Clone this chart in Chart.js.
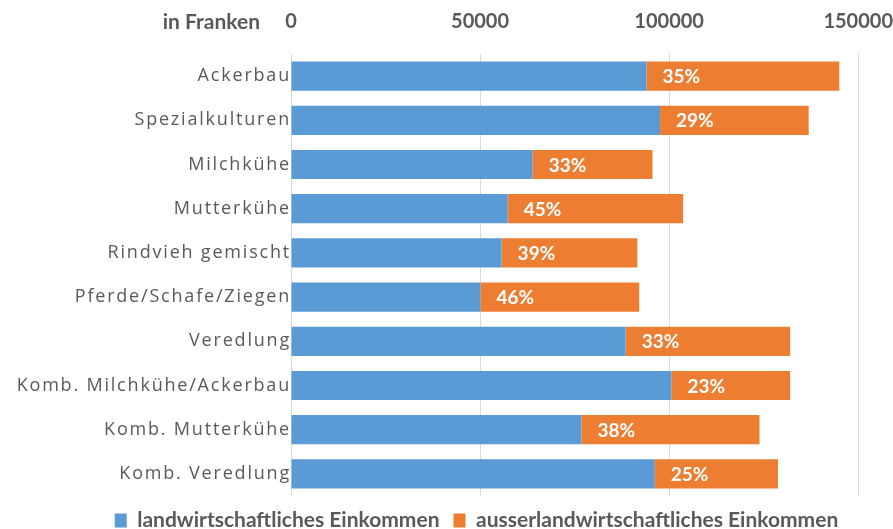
<!DOCTYPE html>
<html>
<head>
<meta charset="utf-8">
<script src="https://cdn.jsdelivr.net/npm/chart.js@4.4.1/dist/chart.umd.min.js"></script>
<style>
  body { margin: 0; background: #fff; }
  canvas { display: block; }
</style>
</head>
<body>
<canvas id="chart" width="893" height="529"></canvas>
<script>
// Kategorien (Betriebstypen)
const categories = [
  "Ackerbau",
  "Spezialkulturen",
  "Milchkühe",
  "Mutterkühe",
  "Rindvieh gemischt",
  "Pferde/Schafe/Ziegen",
  "Veredlung",
  "Komb. Milchkühe/Ackerbau",
  "Komb. Mutterkühe",
  "Komb. Veredlung"
];

// Werte in Franken (aus dem Bild geschätzt)
const farmIncome = [94000, 97600, 63900, 57300, 55700, 50100, 88500, 100600, 76800, 96200];
const offFarmIncome = [51000, 39300, 31700, 46400, 35900, 42000, 43500, 31400, 47100, 32600];

// Anteil ausserlandwirtschaftliches Einkommen
const shareLabels = ["35%", "29%", "33%", "45%", "39%", "46%", "33%", "23%", "38%", "25%"];

const seriesNames = ["landwirtschaftliches Einkommen", "ausserlandwirtschaftliches Einkommen"];
const axisTitle = "in Franken";

const grey = "#595959";

// Eigene Beschriftungen: Achsentitel, Kategorien, Prozentwerte
const labelPlugin = {
  id: "labels",
  afterDatasetsDraw(chart) {
    const ctx = chart.ctx;
    const meta = chart.getDatasetMeta(1);
    ctx.save();
    ctx.fillStyle = "#ffffff";
    ctx.font = "bold 19px Lato";
    ctx.textAlign = "left";
    ctx.textBaseline = "middle";
    meta.data.forEach((bar, i) => {
      ctx.fillText(shareLabels[i], bar.base + 16, bar.y + 1);
    });
    ctx.restore();
  },
  afterDraw(chart) {
    const ctx = chart.ctx;
    const yScale = chart.scales.y;
    ctx.save();
    ctx.fillStyle = grey;
    ctx.font = "bold 21px Lato";
    ctx.textAlign = "right";
    ctx.textBaseline = "middle";
    ctx.fillText(axisTitle, 260, 22);

    ctx.font = "18px 'Open Sans'";
    ctx.letterSpacing = "1.8px";
    categories.forEach((c, i) => {
      ctx.fillText(c, 291, yScale.getPixelForValue(i));
    });
    ctx.restore();
  }
};

const ctx = document.getElementById("chart").getContext("2d");
new Chart(ctx, {
  type: "bar",
  data: {
    labels: categories,
    datasets: [
      {
        label: seriesNames[0],
        data: farmIncome,
        backgroundColor: "#5B9BD5",
        borderWidth: 0
      },
      {
        label: seriesNames[1],
        data: offFarmIncome,
        backgroundColor: "#ED7D31",
        borderWidth: 0
      }
    ]
  },
  options: {
    indexAxis: "y",
    responsive: false,
    animation: false,
    layout: { padding: { left: 60, right: 0, top: 0, bottom: -12 } },
    scales: {
      x: {
        position: "top",
        stacked: true,
        min: 0,
        max: 150000,
        ticks: {
          stepSize: 50000,
          color: grey,
          font: { family: "Lato", size: 20, weight: "bold" },
          padding: 0,
          maxRotation: 0,
          callback: (v) => String(v)
        },
        grid: { color: "#d9d9d9", drawTicks: true, tickLength: 20, tickColor: "rgba(0,0,0,0)" },
        border: { display: false },
        afterFit: (s) => { s.height = 54; }
      },
      y: {
        stacked: true,
        ticks: { display: false },
        grid: { display: false },
        border: { display: false },
        afterFit: (s) => { s.width = 231; }
      }
    },
    datasets: {
      bar: { categoryPercentage: 0.66, barPercentage: 1 }
    },
    plugins: {
      legend: {
        position: "bottom",
        labels: {
          color: grey,
          font: { family: "Lato", size: 21, weight: "bold" },
          boxWidth: 12,
          boxHeight: 14,
          padding: 14
        }
      },
      tooltip: { enabled: false }
    }
  },
  plugins: [labelPlugin]
});
</script>
</body>
</html>
